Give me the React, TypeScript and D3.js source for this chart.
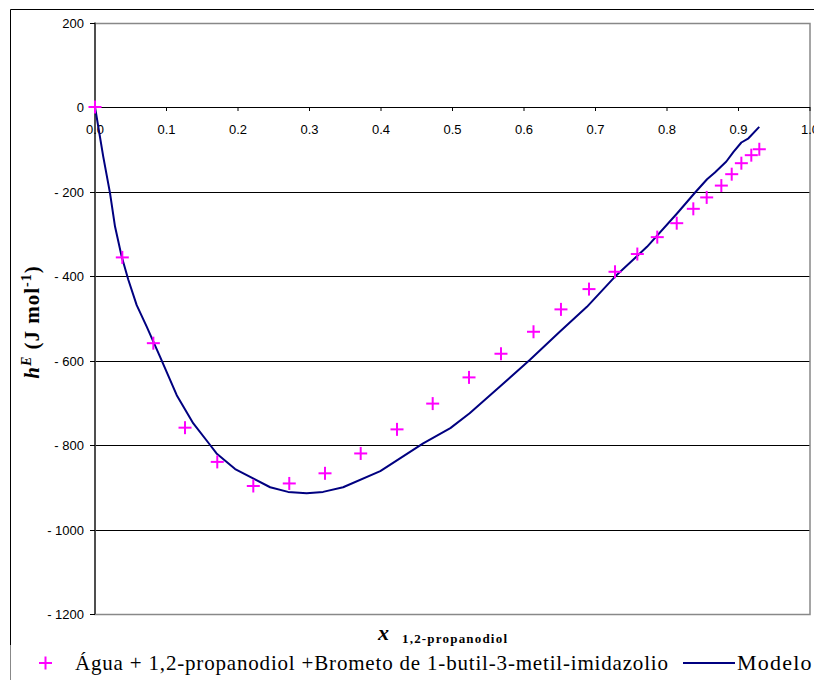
import React from "react";
import * as d3 from "d3";

const expX = [0, 0.0382, 0.0816, 0.1259, 0.171, 0.2214, 0.2717, 0.3217, 0.3716, 0.4224, 0.4723, 0.5231, 0.5678, 0.6133, 0.6517, 0.6909, 0.7273, 0.7585, 0.7864, 0.8136, 0.8368, 0.8555, 0.876, 0.8905, 0.904, 0.9179, 0.9291];
const expY = [0, -356, -559, -759, -840, -897, -891, -867, -820, -763, -702, -640, -584, -532, -479, -431, -390, -348, -308, -275, -241, -214, -186, -159, -133, -114, -100];

const modelX = [0, 0.0116, 0.021, 0.028, 0.0373, 0.0466, 0.0583, 0.0723, 0.0909, 0.1143, 0.1375, 0.161, 0.17, 0.196, 0.245, 0.27, 0.296, 0.319, 0.347, 0.399, 0.459, 0.497, 0.524, 0.566, 0.608, 0.65, 0.688, 0.727, 0.772, 0.814, 0.839, 0.856, 0.867, 0.883, 0.893, 0.904, 0.914, 0.929];
const modelY = [0, -118, -204, -283, -354, -409, -469, -520, -591, -682, -749, -800, -820, -857, -900, -911, -914, -911, -900, -862, -796, -760, -725, -662, -599, -532, -473, -402, -331, -252, -203, -171, -155, -129, -106, -84, -74, -47];

const xTicks = [0, 0.1, 0.2, 0.3, 0.4, 0.5, 0.6, 0.7, 0.8, 0.9, 1.0];
const yTicks = [200, 0, -200, -400, -600, -800, -1000, -1200];

const legendExp = "Água + 1,2-propanodiol +Brometo de 1-butil-3-metil-imidazolio";
const legendModel = "Modelo";

export default function App() {
  const W = 814;
  const H = 680;
  const left = 95;
  const right = 810;
  const top = 22.5;
  const bottom = 614;
  const x = d3.scaleLinear().domain([0, 1]).range([left, right]);
  const y = d3.scaleLinear().domain([-1200, 200]).range([bottom, top]);
  const line = d3
    .line<number>()
    .x((_, i) => x(modelX[i]))
    .y((d) => y(d));
  const fmtY = (v: number) => (v < 0 ? "- " + Math.abs(v) : String(v));
  const sans = "'Liberation Sans', Arial, sans-serif";
  const serif = "'Liberation Serif', 'Times New Roman', serif";
  return (
    <svg
      width={W}
      height={H}
      style={{ position: "absolute", left: 0, top: 0, display: "block", background: "#fff" }}
    >
      {/* outer chart border */}
      <line x1={10.5} y1={9.5} x2={W} y2={9.5} stroke="#000" strokeWidth={1} />
      <line x1={10.5} y1={9.5} x2={10.5} y2={645} stroke="#000" strokeWidth={1} />
      <line x1={10.5} y1={645} x2={10.5} y2={H} stroke="#888" strokeWidth={1} />

      {/* gridlines */}
      {yTicks
        .filter((v) => v !== 200 && v !== -1200 && v !== 0)
        .map((v) => (
          <line key={"g" + v} x1={left} x2={right} y1={Math.round(y(v)) + 0.5} y2={Math.round(y(v)) + 0.5} stroke="#000" strokeWidth={1} />
        ))}
      {/* plot border */}
      <rect x={left} y={Math.round(top) + 0.5} width={right - left} height={Math.round(bottom) - Math.round(top)} fill="none" stroke="#888" strokeWidth={1.5} />

      {/* y axis */}
      <line x1={left} x2={left} y1={y(200)} y2={y(-1200)} stroke="#333" strokeWidth={1.5} />
      {yTicks.map((v) => (
        <g key={"yt" + v}>
          <line x1={left - 5} x2={left} y1={Math.round(y(v)) + 0.5} y2={Math.round(y(v)) + 0.5} stroke="#000" />
          <text x={left - 11} y={y(v) + 5} textAnchor="end" fontFamily={sans} fontSize={13} fill="#000">
            {fmtY(v)}
          </text>
        </g>
      ))}

      {/* x axis at y=0 */}
      <line x1={left} x2={right} y1={Math.round(y(0)) + 0.5} y2={Math.round(y(0)) + 0.5} stroke="#000" strokeWidth={1.2} />
      {xTicks.map((v) => (
        <g key={"xt" + v}>
          <line x1={x(v)} x2={x(v)} y1={y(0)} y2={y(0) + 4} stroke="#000" />
          <text x={x(v)} y={y(0) + 27} textAnchor="middle" fontFamily={sans} fontSize={13} fill="#000">
            {v.toFixed(1)}
          </text>
        </g>
      ))}

      {/* model line */}
      <path d={line(modelY) || ""} fill="none" stroke="#000080" strokeWidth={2} strokeLinejoin="round" />

      {/* experimental points */}
      {expY.map((v, i) => {
        const cx = x(expX[i]);
        const cy = y(v);
        return (
          <g key={"p" + i} stroke="#FF00FF" strokeWidth={2}>
            <line x1={cx - 6.5} x2={cx + 6.5} y1={cy} y2={cy} />
            <line x1={cx} x2={cx} y1={cy - 6.5} y2={cy + 6.5} />
          </g>
        );
      })}

      {/* y axis label */}
      <text transform="translate(39,322) rotate(-90)" textAnchor="middle" fontFamily={serif} fontWeight="bold" fontSize={21} fill="#000" letterSpacing={1}>
        <tspan fontStyle="italic">h</tspan>
        <tspan fontStyle="italic" fontSize={14} dy={-8}>E</tspan>
        <tspan dy={8}>{"  (J mol"}</tspan>
        <tspan fontSize={14} dy={-8}>-1</tspan>
        <tspan dy={8}>)</tspan>
      </text>

      {/* x axis label */}
      <text x={378} y={640} fontFamily={serif} fontWeight="bold" fontStyle="italic" fontSize={22} fill="#000">
        x
      </text>
      <text x={402} y={643} fontFamily={serif} fontWeight="bold" fontSize={13} fill="#000" textLength={105} lengthAdjust="spacing">
        1,2-propanodiol
      </text>

      {/* legend */}
      <g stroke="#FF00FF" strokeWidth={2}>
        <line x1={39} x2={52} y1={663} y2={663} />
        <line x1={45.5} x2={45.5} y1={656.5} y2={669.5} />
      </g>
      <text x={75} y={670} fontFamily={serif} fontSize={21} fill="#000" textLength={593} lengthAdjust="spacing">
        {legendExp}
      </text>
      <line x1={683} x2={735} y1={663} y2={663} stroke="#000080" strokeWidth={2} />
      <text x={737} y={670} fontFamily={serif} fontSize={22} fill="#000" letterSpacing={1.2}>
        {legendModel}
      </text>
    </svg>
  );
}
